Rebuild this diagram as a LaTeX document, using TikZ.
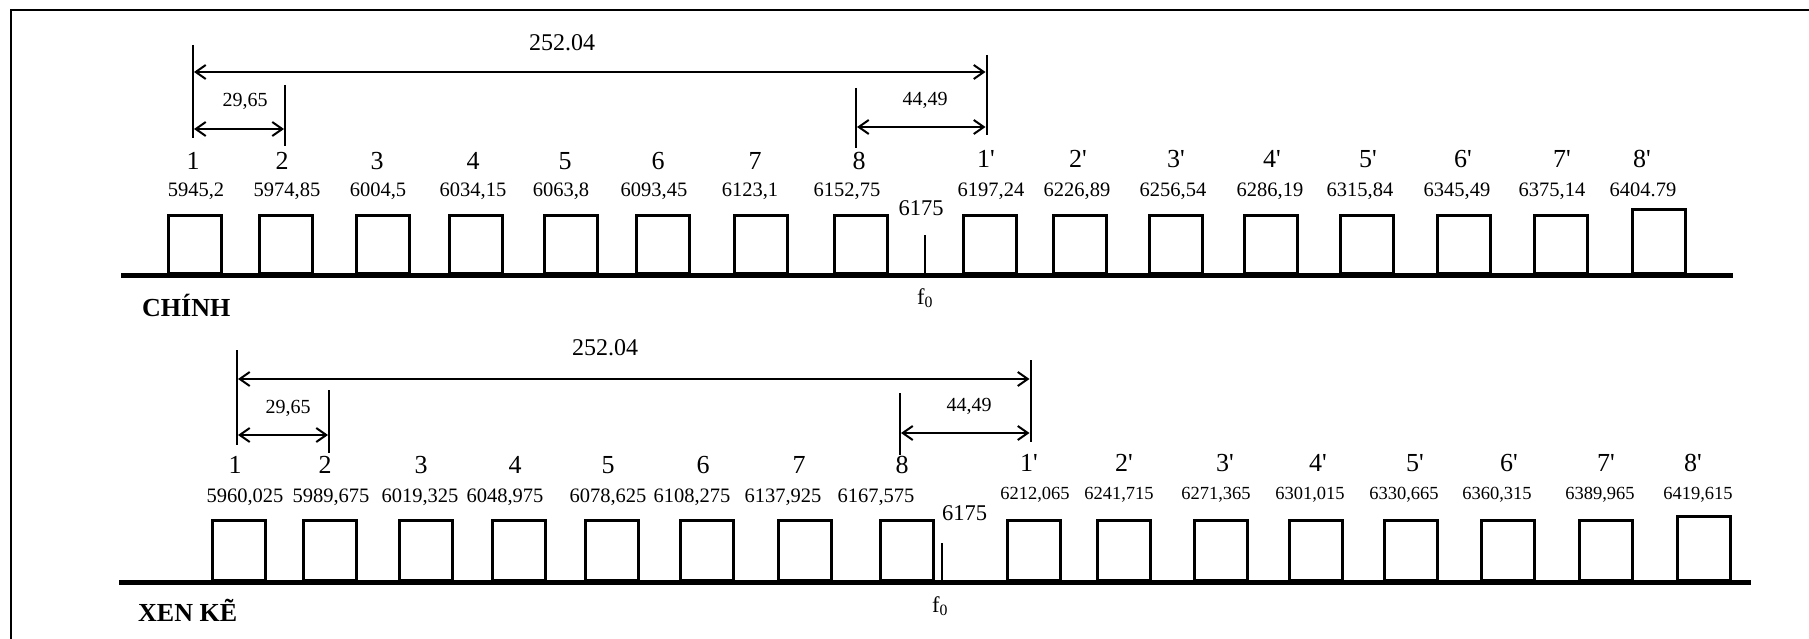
\documentclass[tikz,border=0pt]{standalone}
\usepackage{fontspec}
\setmainfont{Liberation Serif}
\usetikzlibrary{arrows.meta}
\begin{document}
\begin{tikzpicture}[x=1pt,y=-1pt,
  chan/.style={draw,line width=2.6pt,minimum width=53pt,inner sep=0pt,anchor=south west},
  numlab/.style={inner sep=0pt,font=\fontsize{26}{28}\selectfont,text height=0.68em,text depth=0pt},
  vallab/.style={inner sep=0pt,font=\fontsize{20.5}{22}\selectfont,text height=0.68em,text depth=0pt},
  vallabs/.style={inner sep=0pt,font=\fontsize{18.5}{20}\selectfont,text height=0.68em,text depth=0pt},
  dimlab/.style={inner sep=0pt,font=\fontsize{20}{22}\selectfont,text height=0.68em,text depth=0pt},
  biglab/.style={inner sep=0pt,font=\fontsize{24}{26}\selectfont,text height=0.68em,text depth=0pt},
  flab/.style={inner sep=0pt,font=\fontsize{22.5}{24}\selectfont,text height=0.68em,text depth=0pt},
  ttl/.style={inner sep=0pt,anchor=west,font=\fontsize{26}{28}\selectfont\bfseries,text height=0.66em,text depth=0pt},
  dimline/.style={line width=2pt},
  arr/.style={line width=2pt,{Straight Barb[length=10pt,width=14pt]}-{Straight Barb[length=10pt,width=14pt]}},
  axis/.style={line width=5pt},
  tick/.style={line width=2pt},
  frame/.style={line width=2.5pt}]
\useasboundingbox (0,0) rectangle (1809,639);
% frame
\coordinate (fa) at (11,639);
\coordinate (fb) at (11,10);
\coordinate (fc) at (1809,10);
\draw[frame] (fa) -- (fb) -- (fc);

% ================= TOP PANEL =================
\coordinate (axA1) at (121,275);
\coordinate (axA2) at (1733,275);
\draw[axis] (axA1) -- (axA2);
\foreach \n/\x in {a1/167,a2/258,a3/355,a4/448,a5/543,a6/635,a7/733,a8/833,
                   ap1/962,ap2/1052,ap3/1148,ap4/1243,ap5/1339,ap6/1436,ap7/1533}
  \node[chan,minimum height=58pt] (\n) at (\x,275) {};
\node[chan,minimum height=64pt] (ap8) at (1631,275) {};

\foreach \n/\t/\x in {1/1/193,2/2/282,3/3/377,4/4/473,5/5/565,6/6/658,7/7/755,8/8/859}
  \node[numlab] (nA\n) at (\x,166) {\t};
\foreach \n/\x in {1/986,2/1078,3/1176,4/1272,5/1368,6/1463,7/1562,8/1642}
  \node[numlab] (nAp\n) at (\x,164) {\n\textquotesingle};

\foreach \n/\t/\x in {1/{5945,2}/196,2/{5974,85}/287,3/{6004,5}/378,4/{6034,15}/473,
                      5/{6063,8}/561,6/{6093,45}/654,7/{6123,1}/750,8/{6152,75}/847,
                      p1/{6197,24}/991,p2/{6226,89}/1077,p3/{6256,54}/1173,p4/{6286,19}/1270,
                      p5/{6315,84}/1360,p6/{6345,49}/1457,p7/{6375,14}/1552,p8/{6404.79}/1643}
  \node[vallab] (vA\n) at (\x,193) {\t};

\node[flab] (cA) at (921,212) {6175};
\coordinate (tkA1) at (924.5,235);
\coordinate (tkA2) at (924.5,274);
\draw[tick] (tkA1) -- (tkA2);
\node[flab] (fA) at (925,301) {f\textsubscript{0}};
\node[ttl] (tA) at (142,313) {CHÍNH};

% dimension lines top
\coordinate (dA1t) at (193,45);  \coordinate (dA1b) at (193,138);
\coordinate (dA2t) at (285,85);  \coordinate (dA2b) at (285,146);
\coordinate (dA8t) at (856,88);  \coordinate (dA8b) at (856,148);
\coordinate (dAp1t) at (986.5,55); \coordinate (dAp1b) at (986.5,135);
\draw[dimline] (dA1t) -- (dA1b);
\draw[dimline] (dA2t) -- (dA2b);
\draw[dimline] (dA8t) -- (dA8b);
\draw[dimline] (dAp1t) -- (dAp1b);
\coordinate (bA1) at (194,72);  \coordinate (bA2) at (985.5,72);
\coordinate (sA1) at (194,129); \coordinate (sA2) at (284,129);
\coordinate (eA1) at (857,127); \coordinate (eA2) at (985.5,127);
\draw[arr] (bA1) -- (bA2);
\draw[arr] (sA1) -- (sA2);
\draw[arr] (eA1) -- (eA2);
\node[biglab] (lbA) at (562,47) {252.04};
\node[dimlab] (lsA) at (245,103) {29,65};
\node[dimlab] (leA) at (925,102) {44,49};

% ================= BOTTOM PANEL =================
\coordinate (axB1) at (119,582);
\coordinate (axB2) at (1751,582);
\draw[axis] (axB1) -- (axB2);
\foreach \n/\x in {b1/211,b2/302,b3/398,b4/491,b5/584,b6/679,b7/777,b8/879,
                   bp1/1006,bp2/1096,bp3/1193,bp4/1288,bp5/1383,bp6/1480,bp7/1578}
  \node[chan,minimum height=60pt] (\n) at (\x,582) {};
\node[chan,minimum height=64pt] (bp8) at (1676,582) {};

\foreach \n/\t/\x in {1/1/235,2/2/325,3/3/421,4/4/515,5/5/608,6/6/703,7/7/799,8/8/902}
  \node[numlab] (nB\n) at (\x,470) {\t};
\foreach \n/\x in {1/1029,2/1124,3/1225,4/1318,5/1415,6/1509,7/1606,8/1693}
  \node[numlab] (nBp\n) at (\x,468) {\n\textquotesingle};

\foreach \n/\t/\x in {1/{5960,025}/245,2/{5989,675}/331,3/{6019,325}/420,4/{6048,975}/505,
                      5/{6078,625}/608,6/{6108,275}/692,7/{6137,925}/783,8/{6167,575}/876}
  \node[vallab] (vB\n) at (\x,499) {\t};
\foreach \n/\t/\x in {p1/{6212,065}/1035,p2/{6241,715}/1119,p3/{6271,365}/1216,p4/{6301,015}/1310,
                      p5/{6330,665}/1404,p6/{6360,315}/1497,p7/{6389,965}/1600,p8/{6419,615}/1698}
  \node[vallabs] (vB\n) at (\x,496) {\t};

\node[flab] (cB) at (964.5,517) {6175};
\coordinate (tkB1) at (941.5,543);
\coordinate (tkB2) at (941.5,581);
\draw[tick] (tkB1) -- (tkB2);
\node[flab] (fB) at (940,609) {f\textsubscript{0}};
\node[ttl] (tB) at (138,618) {XEN KẼ};

% dimension lines bottom
\coordinate (dB1t) at (237,350);  \coordinate (dB1b) at (237,445);
\coordinate (dB2t) at (329,390);  \coordinate (dB2b) at (329,453);
\coordinate (dB8t) at (900,393);  \coordinate (dB8b) at (900,455);
\coordinate (dBp1t) at (1030.5,360); \coordinate (dBp1b) at (1030.5,442);
\draw[dimline] (dB1t) -- (dB1b);
\draw[dimline] (dB2t) -- (dB2b);
\draw[dimline] (dB8t) -- (dB8b);
\draw[dimline] (dBp1t) -- (dBp1b);
\coordinate (bB1) at (238,379);  \coordinate (bB2) at (1029.5,379);
\coordinate (sB1) at (238,435); \coordinate (sB2) at (328,435);
\coordinate (eB1) at (901,433); \coordinate (eB2) at (1029.5,433);
\draw[arr] (bB1) -- (bB2);
\draw[arr] (sB1) -- (sB2);
\draw[arr] (eB1) -- (eB2);
\node[biglab] (lbB) at (605,352) {252.04};
\node[dimlab] (lsB) at (288,410) {29,65};
\node[dimlab] (leB) at (969,408) {44,49};
\end{tikzpicture}
\end{document}
